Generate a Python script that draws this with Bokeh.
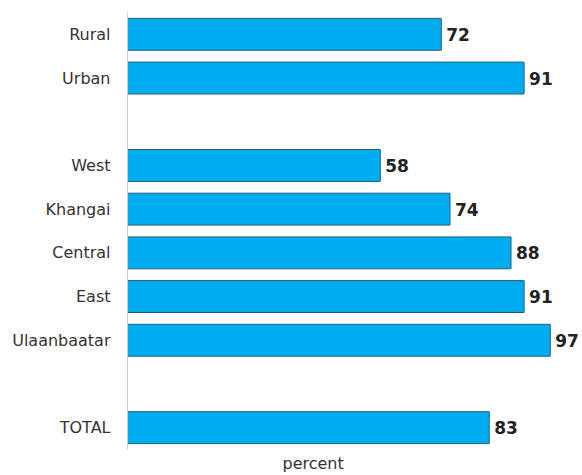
from bokeh.plotting import figure
from bokeh.models import Range1d, FactorRange, Title, ColumnDataSource
from bokeh.core.properties import value
from bokeh.embed import file_html
from bokeh.resources import INLINE

categories = ["Rural", "Urban", "West", "Khangai", "Central", "East", "Ulaanbaatar", "TOTAL"]
values = [72, 91, 58, 74, 88, 91, 97, 83]
factor_order = ["Rural", "Urban", " ", "West", "Khangai", "Central", "East", "Ulaanbaatar", "  ", "TOTAL"]
axis_title = "percent"

src = ColumnDataSource(data=dict(cat=categories, val=values, lab=[str(v) for v in values]))

p = figure(width=582, height=475, output_backend="svg", toolbar_location=None,
           y_range=FactorRange(factors=list(reversed(factor_order)), range_padding=0),
           x_range=Range1d(0, 104.4))
p.min_border_left = 127
p.min_border_right = 0
p.min_border_top = 12
p.min_border_bottom = 26
p.outline_line_color = None
p.grid.visible = False
p.xaxis.visible = False
p.background_fill_color = "white"
p.border_fill_color = "white"

p.hbar(y="cat", right="val", left=0, height=0.73, source=src,
       fill_color="#00AEEF", line_color="#2B5C73", line_width=1)
p.text(x="val", y="cat", text="lab", source=src, x_offset=5,
       text_baseline="middle", text_align="left",
       text_font=value("DejaVu Sans"), text_font_style="bold",
       text_font_size="17px", text_color="#222222")

ya = p.yaxis[0]
ya.axis_line_color = "#cfcfcf"
ya.major_tick_line_color = None
ya.minor_tick_line_color = None
ya.major_label_standoff = 11
ya.major_label_text_font = "DejaVu Sans"
ya.major_label_text_font_size = "16px"
ya.major_label_text_color = "#333333"

t = Title(text=axis_title, align="left", offset=155, text_font="DejaVu Sans",
          text_font_size="16px", text_font_style="normal", text_color="#333333",
          standoff=4)
p.add_layout(t, "below")

open("out.html", "w").write(file_html(p, INLINE))
